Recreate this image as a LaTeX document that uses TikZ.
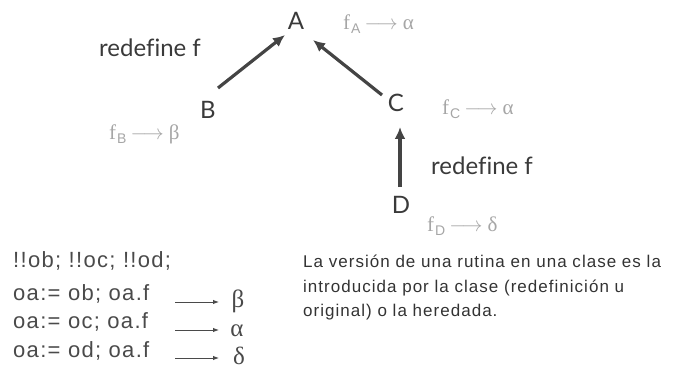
\documentclass[tikz,border=0pt]{standalone}
\usepackage{fontspec}
\setmainfont{Liberation Sans}
\newfontfamily\labfont[Ligatures=NoCommon]{Lato}
\newfontfamily\codefont[LetterSpace=6]{Liberation Sans}
\newfontfamily\parfont[LetterSpace=6]{Liberation Sans}
\newfontfamily\grk{Liberation Serif}
\usetikzlibrary{arrows.meta}
\definecolor{labc}{HTML}{3A3A3A}
\definecolor{fgray}{HTML}{A6A6A6}
\definecolor{codec}{HTML}{4A4A4A}
\definecolor{parc}{HTML}{333333}
\definecolor{arrc}{HTML}{444444}
\newcommand{\fmapto}[2]{{\grk f}\kern1pt\raisebox{-4pt}{\fontsize{14}{14}\selectfont #1}\kern4pt$\longrightarrow$\kern5pt{\grk #2}}
\begin{document}
\begin{tikzpicture}[x=1pt,y=-1pt,
  cls/.style={inner sep=0pt,text=labc,font=\labfont\fontsize{24}{28}\selectfont},
  redef/.style={inner sep=0pt,anchor=west,text=labc,font=\labfont\fontsize{24}{28}\selectfont},
  fmap/.style={inner sep=0pt,anchor=west,text=fgray,font=\fontsize{21}{24}\selectfont},
  codeline/.style={inner sep=0pt,anchor=base west,text=codec,font=\codefont\fontsize{22}{26}\selectfont},
  greek/.style={inner sep=0pt,text=codec,font=\grk\fontsize{25}{28}\selectfont},
  parline/.style={inner sep=0pt,anchor=base west,text=parc,font=\parfont\fontsize{17}{20}\selectfont},
  heavy/.style={draw=arrc,line width=3.2pt,-{Latex[length=12pt,width=11pt]}},
  thin/.style={draw=codec,line width=1pt,-{Latex[length=6pt,width=4.5pt]}}]
\useasboundingbox (0,0) rectangle (676,390);

% classes
\node[cls] (A) at (296,21) {A};
\node[cls] (B) at (208,110) {B};
\node[cls] (C) at (396,103) {C};
\node[cls] (D) at (401,205) {D};

\node[redef] (r1) at (99,48) {redefine f};
\node[redef] (r2) at (431,166) {redefine f};

\node[fmap] (fa) at (343,24) {\fmapto{A}{α}};
\node[fmap] (fb) at (109,134) {\fmapto{B}{β}};
\node[fmap] (fc) at (442,109) {\fmapto{C}{α}};
\node[fmap] (fd) at (427,226) {\fmapto{D}{δ}};

\draw[heavy] ([shift={(10,-22)}]B.center) -- ([shift={(-11,14)}]A.center);
\draw[heavy] ([shift={(-14,-8)}]C.center) -- ([shift={(17,19)}]A.center);
\draw[heavy] ([shift={(-1,-18)}]D.center) -- ([shift={(4,24)}]C.center);

% code lines
\node[codeline] (l1) at (13,267) {!!ob; !!oc; !!od;};
\node[codeline] (l2) at (13,300) {oa:= ob; oa.f};
\node[codeline] (l3) at (13,328) {oa:= oc; oa.f};
\node[codeline] (l4) at (13,357) {oa:= od; oa.f};

\node[greek] (g2) at (238,301) {β};
\node[greek] (g3) at (237,331) {α};
\node[greek] (g4) at (239,356) {δ};

\coordinate (s2) at (175,302);
\coordinate (s3) at (175,330);
\coordinate (s4) at (175,358);
\coordinate (e2) at (219,302);
\coordinate (e3) at (219,330);
\coordinate (e4) at (219,358);
\draw[thin] (s2) -- (e2);
\draw[thin] (s3) -- (e3);
\draw[thin] (s4) -- (e4);

% paragraph
\node[parline] (p1) at (303,267) {La versión de una rutina en una clase es la};
\node[parline] (p2) at (303,292) {introducida por la clase (redefinición u};
\node[parline] (p3) at (303,316) {original) o la heredada.};
\end{tikzpicture}
\end{document}
